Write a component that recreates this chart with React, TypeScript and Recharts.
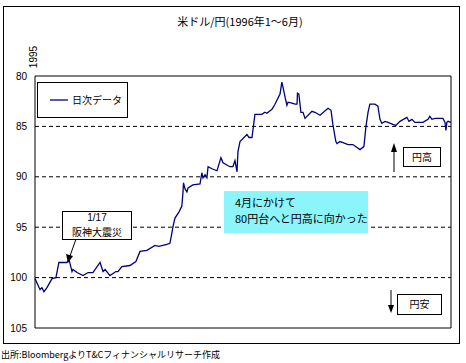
import { LineChart, Line, XAxis, YAxis, ReferenceLine, ReferenceArea } from "recharts";

// calendar day of 1996 (0 = Jan 1) and USD/JPY close, read off the picture
const days = [
  0, 2.2, 3.0, 3.9, 5.2, 7.4, 9.1, 10.4, 13.9, 14.8, 16.1, 16.5, 18.3, 20.9, 23.1, 25.2,
  28.3, 29.6, 30.5, 32.6, 35.2, 36.1, 37.8, 41.3, 43.9, 45.7, 48.7, 52.2, 53.9, 57.4, 58.7,
  59.2, 60.0, 60.9, 62.6, 63.9, 64.4, 64.6, 65.3, 66.1, 66.6, 68.7, 71.8, 72.6, 73.1, 74.0,
  74.8, 75.3, 77.0, 79.2, 80.9, 81.8, 84.8, 86.1, 87.0, 87.9, 88.3, 89.2, 92.2, 93.1, 94.4,
  95.7, 98.7, 100.0, 100.9, 103.1, 104.4, 106.6, 107.4, 107.9, 108.8, 109.6, 110.1, 111.8,
  113.1, 114.0, 114.2, 114.8, 115.7, 116.6, 117.5, 120.5, 121.8, 124.0, 127.5, 128.8, 129.6,
  130.9, 131.4, 132.7, 134.0, 136.2, 138.3, 141.4, 143.1, 144.0, 144.9, 145.7, 147.9, 149.2,
  150.1, 150.9, 152.3, 153.6, 155.7, 157.0, 158.8, 161.8, 162.7, 164.0, 165.3, 168.8, 171.0,
  171.8, 172.7, 174.0, 177.5, 178.4, 178.8, 179.2, 179.7, 181.0,
];
const rates = [
  100.1, 101.2, 101.0, 101.4, 101.0, 100.1, 100.0, 98.5, 98.5, 98.2, 99.4, 99.2, 99.5, 99.8, 99.5, 99.5,
  98.5, 99.4, 99.2, 99.8, 99.4, 99.4, 98.9, 98.8, 98.4, 97.4, 97.3, 96.8, 96.9, 96.7, 96.6,
  96.0, 95.0, 94.1, 93.5, 92.9, 91.5, 90.6, 91.2, 91.5, 91.1, 90.8, 90.7, 89.6, 90.1, 89.8,
  90.1, 89.0, 89.2, 89.4, 88.1, 88.6, 89.0, 89.0, 88.4, 89.5, 87.5, 86.5, 85.8, 86.1, 86.1,
  83.8, 83.8, 83.6, 83.7, 83.3, 82.8, 81.8, 80.6, 81.1, 82.1, 82.9, 82.6, 82.7,
  82.8, 82.8, 81.7, 81.8, 83.6, 83.6, 84.2, 83.5, 83.6, 83.9, 83.2, 83.4, 84.8,
  86.5, 86.7, 86.5, 86.6, 86.8, 86.8, 87.3, 87.0, 85.0, 83.6, 82.8, 82.8, 83.0,
  84.3, 84.7, 84.5, 84.6, 84.8, 84.9, 84.5, 84.1, 84.5, 84.3, 84.6, 84.6,
  84.3, 84.0, 84.3, 84.2, 84.2, 84.6, 85.4, 84.6, 84.5, 84.6,
];
const yTicks = [80, 85, 90, 95, 100, 105];
const gridValues = [85, 90, 95, 100];

const data = days.map((day, i) => ({ day, rate: rates[i] }));

const jp = '"Noto Sans CJK JP", sans-serif';
const latin = "Liberation Sans, Arial";

export default function App() {
  return (
    <div style={{ position: "absolute", left: 0, top: 0, width: 466, height: 363, background: "#fff" }}>
      <LineChart width={466} height={363} data={data} margin={{ top: 76, right: 15, bottom: 35, left: 5 }}>
        <XAxis dataKey="day" type="number" domain={[0, 181]} hide />
        <YAxis
          type="number"
          domain={[80, 105]}
          reversed
          ticks={yTicks}
          width={30}
          axisLine={false}
          tickLine={false}
          tick={{ fontSize: 10, fill: "#000", fontFamily: latin }}
        />
        {gridValues.map((v) => (
          <ReferenceLine key={v} y={v} stroke="#000" strokeDasharray="4 3" />
        ))}
        <ReferenceArea x1={0} x2={181} y1={80} y2={105} fill="none" stroke="#000" strokeWidth={1} fillOpacity={0} />
        <Line type="linear" dataKey="rate" stroke="#000080" strokeWidth={1.3} dot={false} isAnimationActive={false} />
      </LineChart>
      <svg width={466} height={363} style={{ position: "absolute", left: 0, top: 0, pointerEvents: "none" }}>
        <rect x={3.5} y={6.5} width={456} height={337} fill="none" stroke="#000" />
        <text x={240} y={26} textAnchor="middle" fontSize={11} fontFamily={jp}>米ドル/円(1996年1～6月)</text>
        <text transform="translate(37,57) rotate(-90)" textAnchor="middle" fontSize={10} fontFamily={latin}>1995</text>

        <rect x={37.5} y={82.5} width={90} height={35} fill="#fff" stroke="#000" />
        <line x1={50} x2={68} y1={100} y2={100} stroke="#000080" strokeWidth={1.3} />
        <text x={72} y={104} fontSize={10} fontFamily={jp}>日次データ</text>

        <line x1={76} y1={239} x2={70} y2={256} stroke="#000" />
        <polygon points="68,263 66,254 73,256" fill="#000" />
        <rect x={62.5} y={211.5} width={69} height={28} fill="#fff" stroke="#000" />
        <text x={97} y={221} textAnchor="middle" fontSize={10} fontFamily={latin}>1/17</text>
        <text x={97} y={236} textAnchor="middle" fontSize={10} fontFamily={jp}>阪神大震災</text>

        <rect x={224} y={191} width={144} height={42} fill="#8cf4fb" />
        <text x={235} y={207} fontSize={11} fontFamily={jp}>4月にかけて</text>
        <text x={235} y={223} fontSize={11} fontFamily={jp}>80円台へと円高に向かった</text>

        <line x1={394} y1={172} x2={394} y2={150} stroke="#000" />
        <polygon points="394,143 391,152 397,152" fill="#000" />
        <rect x={403.5} y={147.5} width={37} height={19} fill="#fff" stroke="#000" />
        <text x={422} y={161} textAnchor="middle" fontSize={10} fontFamily={jp}>円高</text>

        <line x1={391} y1={290} x2={391} y2={306} stroke="#000" />
        <polygon points="391,313 388,305 394,305" fill="#000" />
        <rect x={397.5} y={294.5} width={44} height={20} fill="#fff" stroke="#000" />
        <text x={419.5} y={308} textAnchor="middle" fontSize={10} fontFamily={jp}>円安</text>

        <text x={1} y={358} fontSize={9} fontFamily={jp}>出所:BloombergよりT&Cフィナンシャルリサーチ作成</text>
      </svg>
    </div>
  );
}
